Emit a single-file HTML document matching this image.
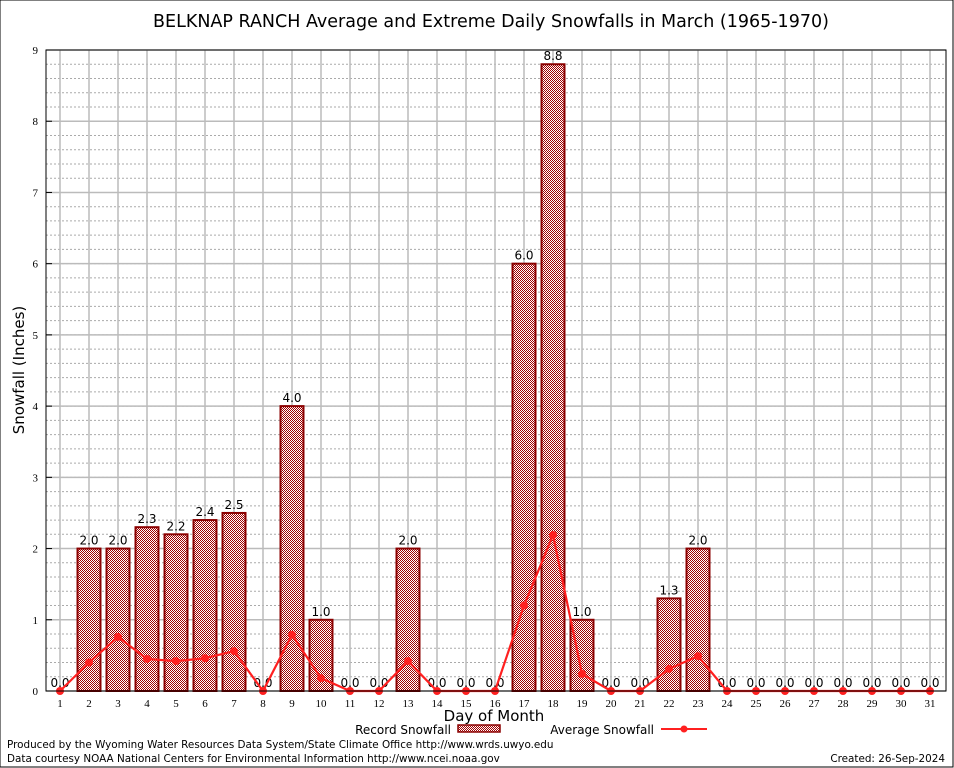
<!DOCTYPE html>
<html><head><meta charset="utf-8"><style>
body{margin:0;background:#fff;}
svg{display:block;font-family:"DejaVu Sans","Liberation Sans",sans-serif;}
</style></head><body>
<svg id="chart" width="954" height="768" viewBox="0 0 954 768">
<defs>
<pattern id="chk" width="2" height="2" patternUnits="userSpaceOnUse">
<rect width="2" height="2" fill="#fff"/><rect width="1" height="1" fill="#a00000"/><rect x="1" y="1" width="1" height="1" fill="#a00000"/>
</pattern>
</defs>
<rect x="0" y="0" width="953" height="767" fill="#fff" stroke="#000" stroke-width="1"/>
<text x="491" y="27" text-anchor="middle" font-size="17.5">BELKNAP RANCH Average and Extreme Daily Snowfalls in March (1965-1970)</text>
<g id="grid"></g>
<g id="bars"></g>
<g id="line"></g>
<g id="axes"></g>
<text transform="translate(24,370) rotate(-90)" text-anchor="middle" font-size="15">Snowfall (Inches)</text>
<text x="494" y="721" text-anchor="middle" font-size="15">Day of Month</text>
<g>
<text x="451" y="734" text-anchor="end" font-size="12">Record Snowfall</text>
<rect x="458" y="725" width="42" height="7" fill="url(#chk)" stroke="#8b0000" stroke-width="1.5"/>
<text x="654" y="734" text-anchor="end" font-size="12">Average Snowfall</text>
<line x1="661" y1="729" x2="707" y2="729" stroke="#ff2020" stroke-width="2"/>
<circle cx="684" cy="729" r="3.5" fill="#ff2020"/>
</g>
<text x="7" y="748" font-size="10.4">Produced by the Wyoming Water Resources Data System/State Climate Office http://www.wrds.uwyo.edu</text>
<text x="7" y="762" font-size="10.4">Data courtesy NOAA National Centers for Environmental Information http://www.ncei.noaa.gov</text>
<text x="945" y="762" text-anchor="end" font-size="10.4">Created:  26-Sep-2024</text>
</svg>
<script>
const days = [1,2,3,4,5,6,7,8,9,10,11,12,13,14,15,16,17,18,19,20,21,22,23,24,25,26,27,28,29,30,31];
const recordSnow = [0,2.0,2.0,2.3,2.2,2.4,2.5,0,4.0,1.0,0,0,2.0,0,0,0,6.0,8.8,1.0,0,0,1.3,2.0,0,0,0,0,0,0,0,0];
const avgSnow = [0,0.40,0.76,0.45,0.42,0.46,0.56,0,0.79,0.18,0,0,0.42,0,0,0,1.2,2.19,0.24,0,0,0.31,0.49,0,0,0,0,0,0,0,0];
const yTicks = [0,1,2,3,4,5,6,7,8,9];
const NS='http://www.w3.org/2000/svg';
const L=46,R=946,T=50,B=691;
const yMax=9;
function ys(v){return B-(v/yMax)*(B-T);}
function xs(d){return 60+(d-1)*29;}
function mk(tag,attrs,parent){const e=document.createElementNS(NS,tag);for(const k in attrs)e.setAttribute(k,attrs[k]);parent.appendChild(e);return e;}
const grid=document.getElementById('grid'),bars=document.getElementById('bars'),line=document.getElementById('line'),axes=document.getElementById('axes');
for(let v=0;v<=yMax+1e-9;v+=0.2){const y=ys(v);
 const ln=mk('line',{x1:L,x2:R,y1:y,y2:y,stroke:'#aaa','stroke-width':1,'stroke-dasharray':'2,2'},grid);
 
 }
yTicks.forEach(v=>{const y=ys(v);
 const ln=mk('line',{x1:L,x2:R,y1:y,y2:y,stroke:'#bbb','stroke-width':1.5},grid);
 
 
 const tk=mk('line',{x1:L,x2:L+6,y1:y,y2:y,stroke:'#000'},axes);
 
 
 const t=mk('text',{x:L-8,y:y+4,'text-anchor':'end','font-size':11,'font-family':'Liberation Serif,serif'},axes);t.textContent=v;
 
 });
days.forEach(d=>{const x=xs(d);
 const ln=mk('line',{x1:x,x2:x,y1:T,y2:B,stroke:'#bbb','stroke-width':1.5},grid);
 
 
 const t=mk('text',{x:x,y:B+16,'text-anchor':'middle','font-size':11,'font-family':'Liberation Serif,serif'},axes);t.textContent=d;
 
 });
const ax=mk('rect',{x:L,y:T,width:R-L,height:B-T,fill:'none',stroke:'#000','stroke-width':1},axes);


days.forEach((d,i)=>{const v=recordSnow[i],x=xs(d);
 if(v>0){const r=mk('rect',{x:x-11.5,y:ys(v),width:23,height:B-ys(v),fill:'url(#chk)',stroke:'#8b0000','stroke-width':2},bars);
 
 }
 const t=mk('text',{x:x,y:ys(v)-4,'text-anchor':'middle','font-size':12},bars);t.textContent=v.toFixed(1);
 
 });
const pts=days.map((d,i)=>xs(d)+','+ys(avgSnow[i])).join(' ');
const pl=mk('polyline',{points:pts,fill:'none',stroke:'#ff2020','stroke-width':2.2},line);


days.forEach((d,i)=>{const c=mk('circle',{cx:xs(d),cy:ys(avgSnow[i]),r:4,fill:'#ff2020'},line);
 
 });
</script>
</body></html>
